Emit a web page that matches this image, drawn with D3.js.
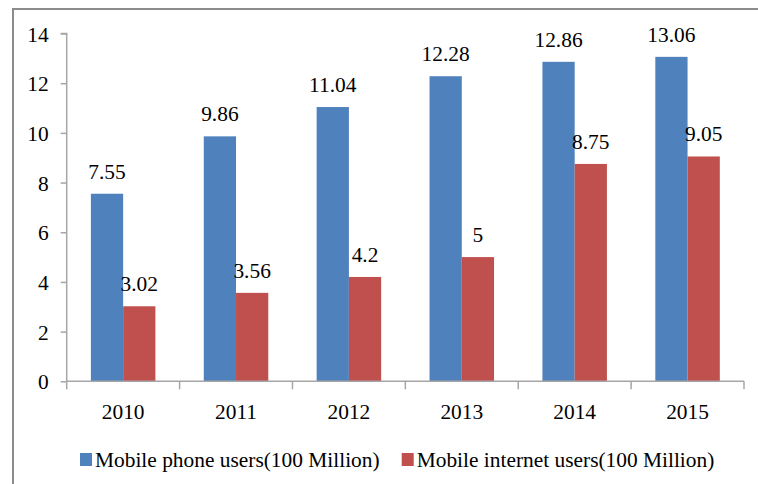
<!DOCTYPE html>
<html>
<head>
<meta charset="utf-8">
<script src="https://cdn.jsdelivr.net/npm/d3@7"></script>
<style>
  html, body { margin: 0; padding: 0; background: #fff; }
  svg { display: block; }
</style>
</head>
<body>
<svg id="chart" width="758" height="484"></svg>
<script>
// Mobile phone vs. mobile internet users in China, 2010-2015 (units: 100 million)
const years = ["2010", "2011", "2012", "2013", "2014", "2015"];
const phoneUsers = [7.55, 9.86, 11.04, 12.28, 12.86, 13.06];
const internetUsers = [3.02, 3.56, 4.2, 5, 8.75, 9.05];
const seriesNames = ["Mobile phone users(100 Million)", "Mobile internet users(100 Million)"];
const seriesColors = ["#4F81BD", "#C0504D"];
const yTicks = [0, 2, 4, 6, 8, 10, 12, 14];

const FONT = '"Liberation Serif"';
const FS = 21.4;

const svg = d3.select("#chart");
const W = 758, H = 484;
const plot = { left: 66.7, right: 744, top: 33.5, bottom: 381.3 };

// outer frame (top and left edges visible)
svg.append("path")
  .attr("d", `M13,${H} L13,9 L${W},9`)
  .attr("fill", "none")
  .attr("stroke", "#8c8c8c")
  .attr("stroke-width", 2);

const x = d3.scaleBand().domain(years).range([plot.left, plot.right]).paddingInner(0).paddingOuter(0);
const y = d3.scaleLinear().domain([0, 14]).range([plot.bottom, plot.top]);

// each bar is band / (2 series + 1.5 gap)
const barW = x.bandwidth() / 3.5;
const xs = d3.scaleBand().domain([0, 1]).range([0, barW * 2]);
const groupOffset = (x.bandwidth() - barW * 2) / 2;

const series = [phoneUsers, internetUsers];

series.forEach((vals, si) => {
  svg.append("g").selectAll("rect")
    .data(vals)
    .join("rect")
    .attr("x", (d, i) => x(years[i]) + groupOffset + xs(si))
    .attr("y", d => y(d))
    .attr("width", barW)
    .attr("height", d => y(0) - y(d))
    .attr("fill", seriesColors[si]);
});

function serif(sel) {
  return sel.style("font-family", FONT).style("font-size", FS + "px").style("fill", "#000");
}

// value labels
series.forEach((vals, si) => {
  svg.append("g").selectAll("text")
    .data(vals)
    .join("text")
    .attr("x", (d, i) => x(years[i]) + groupOffset + xs(si) + barW / 2)
    .attr("y", d => y(d) - 15)
    .attr("text-anchor", "middle")
    .call(serif)
    .text(d => String(d));
});

// y axis
const yAxis = d3.axisLeft(y).tickValues(yTicks).tickSize(6).tickPadding(12).tickFormat(d3.format("d"));
const gy = svg.append("g").attr("transform", `translate(${plot.left},0)`).call(yAxis);
gy.attr("font-family", null).attr("font-size", null);
gy.select(".domain").attr("stroke", "#a6a6a6").attr("stroke-width", 1.5)
  .attr("d", `M-6,${plot.top}H0V${plot.bottom}`);
gy.selectAll(".tick line").attr("stroke", "#a6a6a6").attr("stroke-width", 1.5);
gy.selectAll(".tick text").call(serif).attr("dy", "0.35em");

// x axis
const xAxis = d3.axisBottom(x).tickSize(0).tickPadding(0);
const gx = svg.append("g").attr("transform", `translate(0,${plot.bottom})`).call(xAxis);
gx.attr("font-family", null).attr("font-size", null);
gx.select(".domain").attr("stroke", "#a6a6a6").attr("stroke-width", 1.5)
  .attr("d", `M${plot.left},0H${plot.right}`);
gx.selectAll(".tick text").call(serif).attr("y", 38).attr("dy", 0);
// category separators
const bounds = years.map(d => x(d)).concat([plot.right]);
gx.append("g").selectAll("line")
  .data(bounds)
  .join("line")
  .attr("x1", d => d).attr("x2", d => d)
  .attr("y1", 0).attr("y2", 8)
  .attr("stroke", "#a6a6a6").attr("stroke-width", 1.5);

// legend
const legendItems = [
  { x: 80, name: seriesNames[0], color: seriesColors[0] },
  { x: 401.7, name: seriesNames[1], color: seriesColors[1] }
];
const lg = svg.append("g");
legendItems.forEach(it => {
  lg.append("rect").attr("x", it.x).attr("y", 453).attr("width", 12).attr("height", 13).attr("fill", it.color);
  lg.append("text").attr("x", it.x + 15).attr("y", 467).call(serif).text(it.name);
});
</script>
</body>
</html>
